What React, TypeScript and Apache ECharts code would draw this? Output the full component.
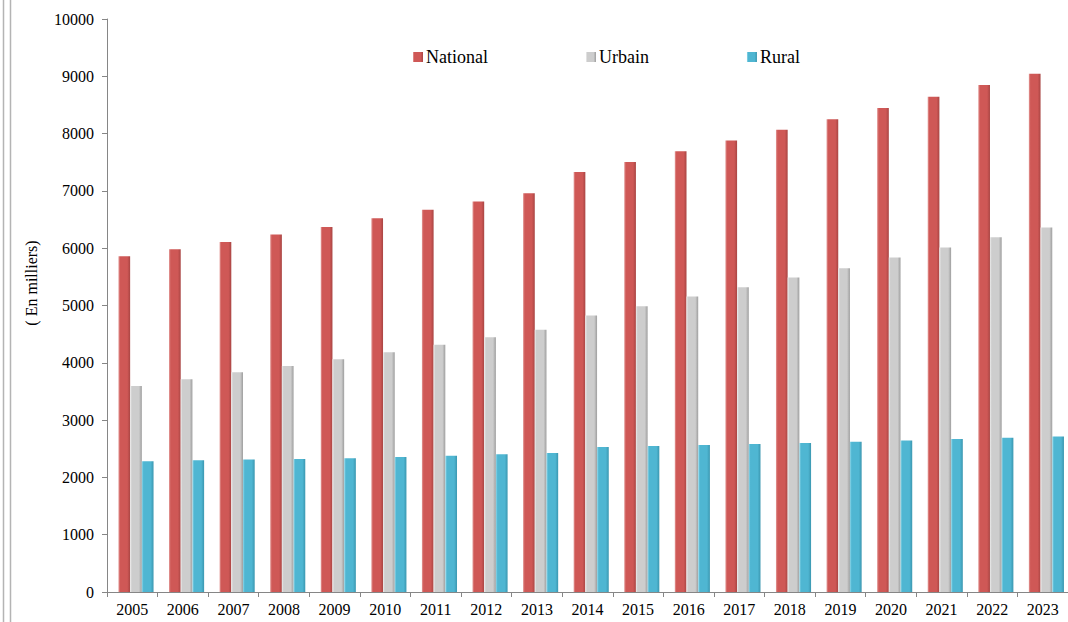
import React, { useEffect, useRef } from "react";
import * as echarts from "echarts";

const years = ["2005","2006","2007","2008","2009","2010","2011","2012","2013","2014","2015","2016","2017","2018","2019","2020","2021","2022","2023"];
const national = [5860,5980,6110,6240,6368,6522,6670,6815,6960,7330,7505,7690,7880,8066,8252,8445,8643,8847,9045];
const urbain = [3597,3714,3836,3946,4060,4185,4313,4447,4575,4825,4988,5157,5320,5488,5652,5837,6012,6193,6361];
const rural = [2284,2300,2314,2320,2334,2357,2380,2404,2427,2532,2549,2567,2584,2602,2624,2642,2671,2694,2712];
const spacer = years.map(() => 0);
const yTicks = [0,1000,2000,3000,4000,5000,6000,7000,8000,9000,10000];
const yTitle = "( En milliers)";

const font = "'Liberation Serif', 'Times New Roman', serif";

function grad(light: string, mid: string, dark: string) {
  return new echarts.graphic.LinearGradient(0, 0, 1, 0, [
    { offset: 0, color: light },
    { offset: 0.15, color: mid },
    { offset: 0.75, color: mid },
    { offset: 1, color: dark },
  ]);
}

export default function App() {
  const ref = useRef<HTMLDivElement>(null);
  useEffect(() => {
    if (!ref.current) return;
    const chart = echarts.init(ref.current, undefined, { renderer: "svg" });
    const redG = grad("#e39a98", "#cf5856", "#a94543");
    const grayG = grad("#ececec", "#cdcdcd", "#9e9e9e");
    const blueG = grad("#8fd6e8", "#4fb6d2", "#3b97b0");
    chart.setOption({
      animation: false,
      backgroundColor: "#ffffff",
      textStyle: { fontFamily: font },
      legend: {
        data: ["National", "Urbain", "Rural"],
        left: 408,
        top: 43,
        itemGap: 98,
        itemWidth: 10,
        itemHeight: 10,
        icon: "rect",
        textStyle: { fontFamily: font, fontSize: 18, color: "#000", padding: [0, 0, 0, -2] },
      },
      grid: { left: 107, right: -6, top: 19, bottom: 30, containLabel: false },
      xAxis: {
        type: "category",
        data: years,
        axisLine: { lineStyle: { color: "#868686", width: 1 } },
        axisTick: { show: true, length: 5, lineStyle: { color: "#868686" } },
        axisLabel: { fontFamily: font, fontSize: 16, color: "#000", margin: 9, interval: 0 },
      },
      yAxis: {
        type: "value",
        min: 0,
        max: 10000,
        interval: 1000,
        axisLine: { show: true, lineStyle: { color: "#868686", width: 1 } },
        axisTick: { show: true, length: 5, lineStyle: { color: "#868686" } },
        axisLabel: {
          fontFamily: font, fontSize: 16, color: "#000", margin: 13,
          formatter: (v: number) => (yTicks.indexOf(v) >= 0 ? String(v) : ""),
        },
        splitLine: { show: false },
      },
      graphic: [
        { type: "line", shape: { x1: 3.5, y1: 0, x2: 3.5, y2: 622 }, style: { stroke: "#b4b4b4", lineWidth: 1.5 } },
        { type: "line", shape: { x1: 10.5, y1: 0, x2: 10.5, y2: 622 }, style: { stroke: "#b4b4b4", lineWidth: 1.5 } },
        {
          type: "text", x: 31, y: 283, rotation: Math.PI / 2,
          style: { text: yTitle, font: "16px " + font, fill: "#000", align: "center", verticalAlign: "middle" },
        },
      ],
      series: [
        { name: "spacer", type: "bar", data: spacer, barWidth: 7.4, barGap: "0%", itemStyle: { color: "transparent" }, silent: true },
        { name: "National", type: "bar", data: national, barWidth: 11.7, barGap: "0%", itemStyle: { color: redG } },
        { name: "Urbain", type: "bar", data: urbain, barWidth: 11.7, barGap: "0%", itemStyle: { color: grayG } },
        { name: "Rural", type: "bar", data: rural, barWidth: 11.7, barGap: "0%", itemStyle: { color: blueG } },
      ],
    });
    return () => chart.dispose();
  }, []);
  return (
    <div
      ref={ref}
      style={{ position: "fixed", left: 0, top: 0, width: 1068, height: 622, background: "#fff" }}
    />
  );
}
